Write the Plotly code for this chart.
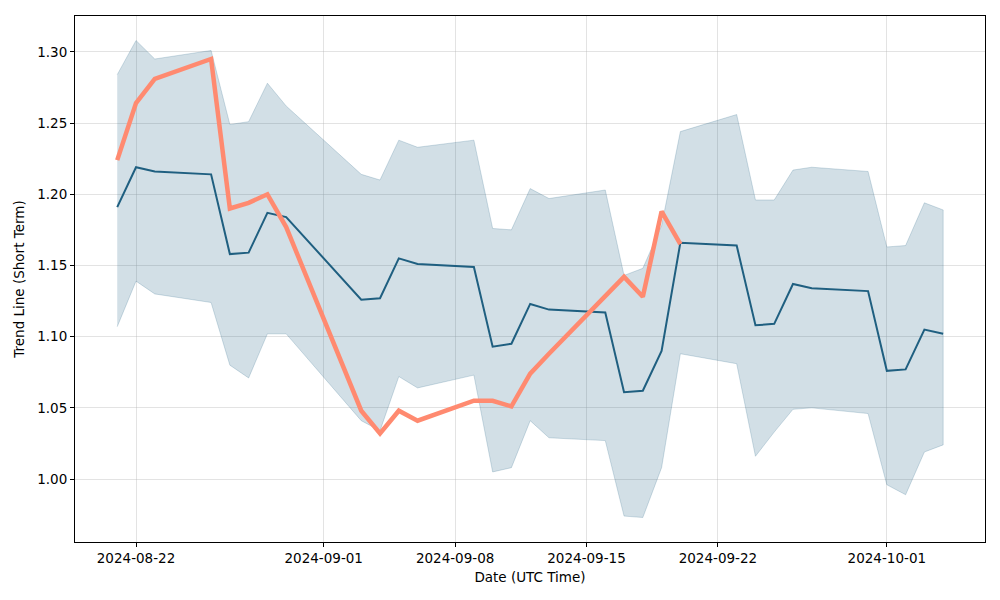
import plotly.graph_objects as go

dates = [
    "2024-08-21", "2024-08-22", "2024-08-23", "2024-08-26", "2024-08-27",
    "2024-08-28", "2024-08-29", "2024-08-30", "2024-09-03", "2024-09-04",
    "2024-09-05", "2024-09-06", "2024-09-09", "2024-09-10", "2024-09-11",
    "2024-09-12", "2024-09-13", "2024-09-16", "2024-09-17", "2024-09-18",
    "2024-09-19", "2024-09-20", "2024-09-23", "2024-09-24", "2024-09-25",
    "2024-09-26", "2024-09-27", "2024-09-30", "2024-10-01", "2024-10-02",
    "2024-10-03", "2024-10-04",
]

trend = [
    1.191, 1.219, 1.216, 1.214, 1.158, 1.159, 1.187, 1.184, 1.126, 1.127,
    1.155, 1.151, 1.149, 1.093, 1.095, 1.123, 1.119, 1.117, 1.061, 1.062,
    1.090, 1.166, 1.164, 1.108, 1.109, 1.137, 1.134, 1.132, 1.076, 1.077,
    1.105, 1.102,
]

upper = [
    1.284, 1.308, 1.295, 1.301, 1.249, 1.251, 1.278, 1.262, 1.214, 1.210,
    1.238, 1.233, 1.238, 1.176, 1.175, 1.204, 1.197, 1.203, 1.143, 1.148,
    1.178, 1.244, 1.256, 1.196, 1.196, 1.217, 1.219, 1.216, 1.163, 1.164,
    1.194, 1.189,
]

lower = [
    1.107, 1.139, 1.130, 1.124, 1.080, 1.071, 1.102, 1.102, 1.041, 1.034,
    1.072, 1.064, 1.073, 1.005, 1.008, 1.041, 1.029, 1.027, 0.974, 0.973,
    1.008, 1.088, 1.081, 1.016, 1.033, 1.049, 1.050, 1.046, 0.996, 0.989,
    1.019, 1.024,
]

short_dates = dates[:22]
short_term = [
    1.224, 1.264, 1.281, 1.295, 1.190, 1.194, 1.200, 1.177, 1.048, 1.032,
    1.048, 1.041, 1.055, 1.055, 1.051, 1.074, 1.088, 1.129, 1.142, 1.128,
    1.188, 1.165,
]

tick_vals = ["2024-08-22", "2024-09-01", "2024-09-08", "2024-09-15", "2024-09-22", "2024-10-01"]
tick_text = ["2024-08-22", "2024-09-01", "2024-09-08", "2024-09-15", "2024-09-22", "2024-10-01"]

band_color = "rgba(31,95,130,0.2)"

fig = go.Figure()
fig.add_trace(
    go.Scatter(
        x=dates + dates[::-1],
        y=upper + lower[::-1],
        fill="toself",
        fillcolor=band_color,
        line=dict(color=band_color, width=1),
        mode="lines",
        hoverinfo="skip",
        showlegend=False,
    )
)
fig.add_trace(
    go.Scatter(
        x=dates,
        y=trend,
        mode="lines",
        line=dict(color="#1f5f80", width=2),
        showlegend=False,
    )
)
fig.add_trace(
    go.Scatter(
        x=short_dates,
        y=short_term,
        mode="lines",
        line=dict(color="#ff8a70", width=4.5),
        showlegend=False,
    )
)

axis_common = dict(
    showline=True,
    linecolor="black",
    linewidth=1,
    mirror=True,
    ticks="outside",
    ticklen=4,
    tickcolor="black",
    showgrid=True,
    gridcolor="rgba(176,176,176,0.35)",
    gridwidth=1,
    zeroline=False,
    tickfont=dict(size=13.5, color="black"),
)

fig.update_xaxes(
    axis_common,
    type="date",
    range=["2024-08-18 18:00", "2024-10-06 05:30"],
    tickvals=tick_vals,
    ticktext=tick_text,
    title=dict(text="Date (UTC Time)", font=dict(size=13.5, color="black"), standoff=7),
)
fig.update_yaxes(
    axis_common,
    range=[0.9558, 1.3252],
    tickvals=[1.00, 1.05, 1.10, 1.15, 1.20, 1.25, 1.30],
    tickformat=".2f",
    title=dict(text="Trend Line (Short Term)", font=dict(size=13.5, color="black"), standoff=9),
)

# page body adds an 8px offset, so margins are trimmed to match
fig.update_layout(
    width=1000,
    height=600,
    margin=dict(l=67, r=23, t=8, b=66),
    plot_bgcolor="white",
    paper_bgcolor="white",
    font=dict(family="DejaVu Sans", size=13.5, color="black"),
)

fig.write_html("out.html")
